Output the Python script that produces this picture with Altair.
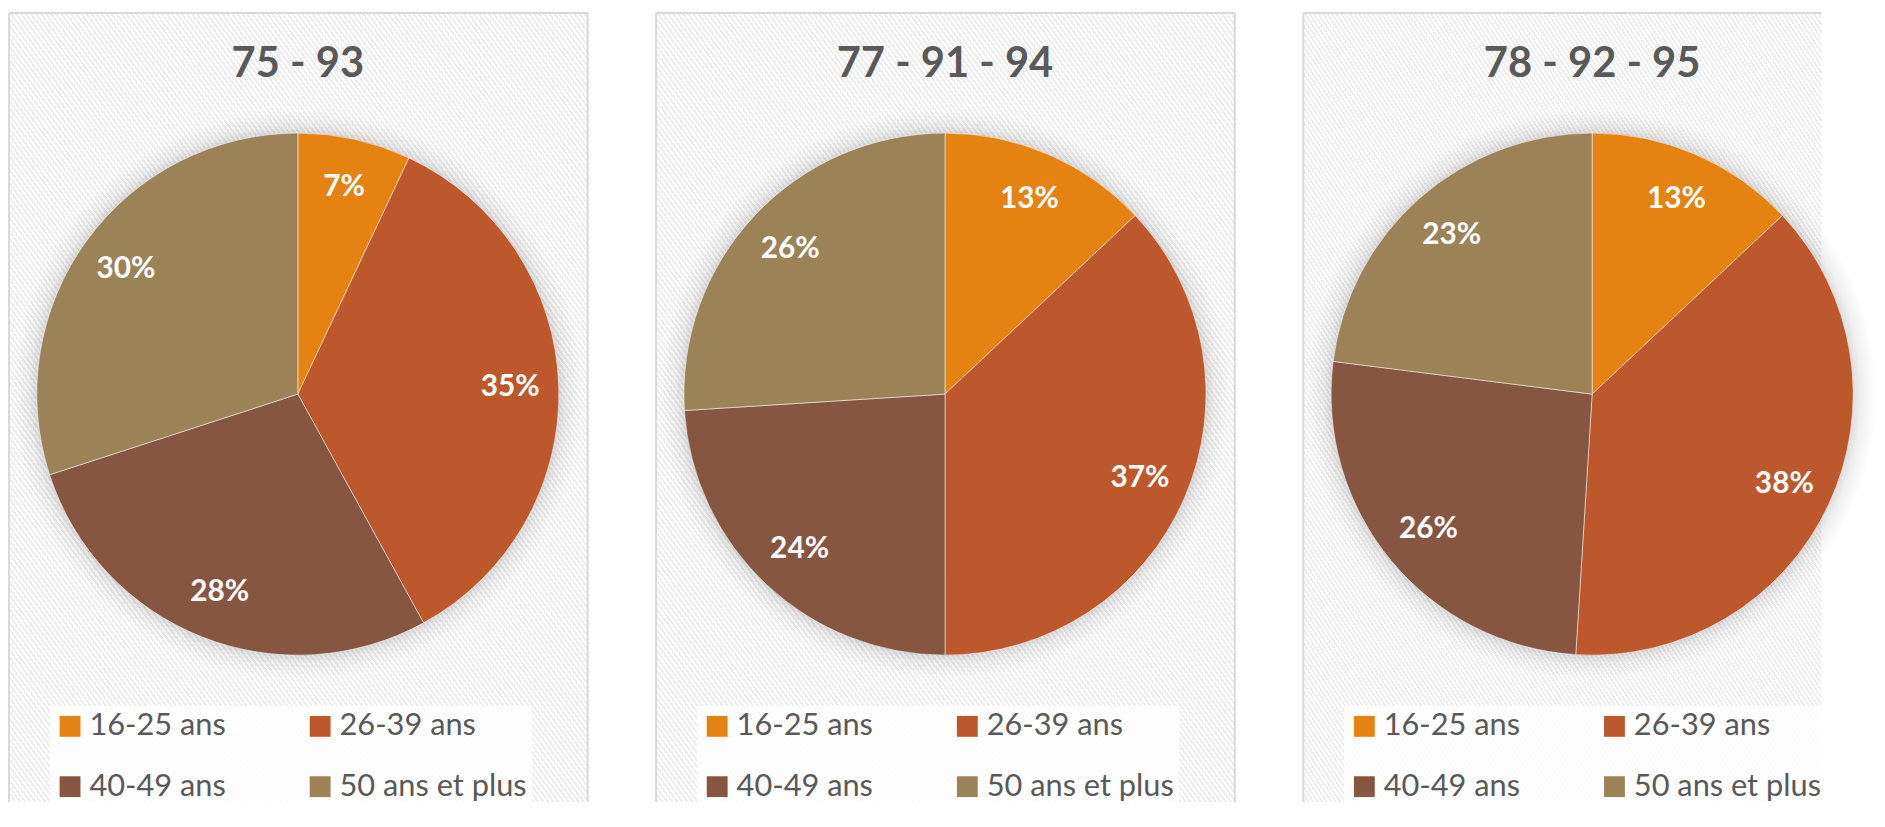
import altair as alt
import pandas as pd

# ---- data ----
groups = ["75 - 93", "77 - 91 - 94", "78 - 92 - 95"]
ages = ["16-25 ans", "26-39 ans", "40-49 ans", "50 ans et plus"]
pct_75_93 = [7, 35, 28, 30]
pct_77_91_94 = [13, 37, 24, 26]
pct_78_92_95 = [13, 38, 26, 23]
series = [pct_75_93, pct_77_91_94, pct_78_92_95]
colors = ["#E48312", "#BD582C", "#865640", "#9B8357"]

# ---- styling ----
W, H = 583, 795
W_LAST = 522          # last panel runs off the right edge of the page
CX, CY = 291, 384
R = 263
LABEL_R = 214
FONT = "Lato"
TEXT_COLOR = "#595959"
BORDER = "#D9D9D9"

# faint diagonal hatch for panel background
n_periods = 230
stops = []
for k in range(n_periods):
    a = k / n_periods
    b = (k + 0.5) / n_periods
    c = (k + 1) / n_periods
    stops.append(alt.GradientStop(offset=a, color="#EDEDED"))
    stops.append(alt.GradientStop(offset=b, color="#EDEDED"))
    stops.append(alt.GradientStop(offset=b, color="#FFFFFF"))
    stops.append(alt.GradientStop(offset=c, color="#FFFFFF"))
hatch = alt.LinearGradient(gradient="linear", stops=stops, x1=0, y1=1, x2=1, y2=0)

RS = R + 24
shadow_fill = alt.RadialGradient(
    gradient="radial",
    stops=[
        alt.GradientStop(offset=0, color="rgba(0,0,0,0.14)"),
        alt.GradientStop(offset=R / RS, color="rgba(0,0,0,0.13)"),
        alt.GradientStop(offset=(R + 8) / RS, color="rgba(0,0,0,0.06)"),
        alt.GradientStop(offset=1, color="rgba(0,0,0,0)"),
    ],
    x1=0.5, y1=0.5, r1=0, x2=0.5, y2=0.5, r2=0.5,
)


def panel(title, values, width, last=False):
    df = pd.DataFrame({
        "age": ages,
        "pct": values,
        "order": list(range(len(ages))),
        "label": [f"{v}%" for v in values],
    })
    tdf = pd.DataFrame({"t": [title]})

    layers = [
        alt.Chart(tdf).mark_rect(fill=hatch, strokeWidth=0).encode(
            x=alt.value(0), x2=alt.value(width), y=alt.value(0), y2=alt.value(H)),
        alt.Chart(tdf).mark_rule(color=BORDER, strokeWidth=2).encode(
            x=alt.value(0), y=alt.value(0), y2=alt.value(H)),
        alt.Chart(tdf).mark_rule(color=BORDER, strokeWidth=2).encode(
            x=alt.value(0), x2=alt.value(width), y=alt.value(0)),
    ]
    if not last:
        layers.append(alt.Chart(tdf).mark_rule(color=BORDER, strokeWidth=2).encode(
            x=alt.value(width), y=alt.value(0), y2=alt.value(H)))

    shadow = alt.Chart(tdf).mark_arc(
        radius=RS, theta=0, theta2=6.2832, fill=shadow_fill, strokeWidth=0
    ).encode(x=alt.value(CX), y=alt.value(CY))

    base = alt.Chart(df).encode(
        theta=alt.Theta("pct:Q", stack=True),
        order=alt.Order("order:Q"),
        x=alt.value(CX),
        y=alt.value(CY),
    )
    pie = base.mark_arc(radius=R, stroke="#FFFFFF", strokeWidth=1, strokeOpacity=0.5).encode(
        color=alt.Color(
            "age:N",
            scale=alt.Scale(domain=ages, range=colors),
            legend=alt.Legend(
                title=None,
                orient="none",
                direction="horizontal",
                legendX=41,
                legendY=698,
                columns=2,
                symbolType="square",
                symbolSize=441,
                symbolStrokeWidth=0,
                symbolOpacity=1,
                labelFont=FONT,
                labelFontSize=31,
                labelColor=TEXT_COLOR,
                labelOffset=4,
                labelLimit=400,
                rowPadding=29,
                columnPadding=79,
                padding=5,
                fillColor="rgba(255,255,255,0.8)",
            ),
        )
    )
    labels = base.mark_text(
        radius=LABEL_R, font=FONT, fontSize=30, fontWeight="bold", color="#FFFFFF"
    ).encode(text="label:N")

    ttl = alt.Chart(tdf).mark_text(
        font=FONT, fontSize=42, fontWeight="bold", color=TEXT_COLOR, baseline="alphabetic"
    ).encode(text="t:N", x=alt.value(CX), y=alt.value(65))

    layers += [shadow, pie, labels, ttl]
    return alt.layer(*layers).properties(width=width, height=H)


panels = [
    panel(groups[0], series[0], W),
    panel(groups[1], series[1], W),
    panel(groups[2], series[2], W_LAST, last=True),
]

chart = alt.hconcat(*panels, spacing=67).resolve_scale(
    color="independent", theta="independent"
).properties(
    padding={"left": 0, "top": 1, "right": 0, "bottom": 0}
).configure_view(strokeWidth=0)

chart.save("out.html", embed_options={"renderer": "svg", "actions": False})
